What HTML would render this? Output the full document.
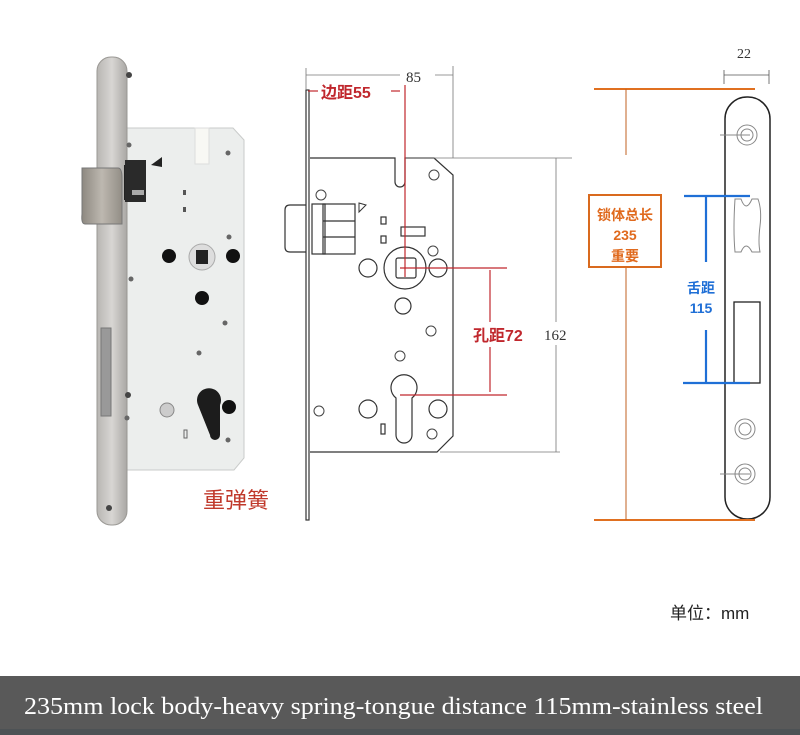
<!DOCTYPE html>
<html><head><meta charset="utf-8"><style>
html,body{margin:0;padding:0;background:#fff;}
svg{display:block}
</style></head><body>
<svg width="800" height="735" viewBox="0 0 800 735" xmlns="http://www.w3.org/2000/svg">
<defs>
<linearGradient id="fp" x1="0" x2="1"><stop offset="0" stop-color="#b8b6b3"/><stop offset="0.5" stop-color="#d8d6d3"/><stop offset="1" stop-color="#a9a7a4"/></linearGradient>
<linearGradient id="lt" x1="0" x2="1"><stop offset="0" stop-color="#8d8880"/><stop offset="0.5" stop-color="#bdb8b0"/><stop offset="1" stop-color="#938e86"/></linearGradient>
</defs>
<rect width="800" height="735" fill="#fff"/>
<!-- PHOTO LOCK -->
<path d="M126,128 H233 L244,140 V458 L234,470 H126 Z" fill="#eceeed" stroke="#c9cbca"/>
<rect x="97" y="57" width="30" height="468" rx="14" fill="url(#fp)" stroke="#9a9894"/>
<rect x="124" y="165" width="22" height="35" fill="#222"/>
<rect x="125" y="160" width="21" height="42" fill="#2a2a2a"/>
<path d="M82,168 H118 Q122,168 122,178 V224 H85 Q81,224 82,214 Z" fill="url(#lt)" stroke="#777"/>
<rect x="132" y="190" width="12" height="5" fill="#aaa"/>
<rect x="195" y="128" width="14" height="36" fill="#f8f8f4" stroke="#ddd"/>
<path d="M151,165 L162,157 L162,167 Z" fill="#222"/>
<rect x="183" y="190" width="3" height="5" fill="#555"/><rect x="183" y="207" width="3" height="5" fill="#555"/>
<circle cx="169" cy="256" r="7" fill="#111"/><circle cx="233" cy="256" r="7" fill="#111"/>
<circle cx="202" cy="257" r="13" fill="#ddd" stroke="#aaa"/><rect x="196" y="250" width="12" height="14" fill="#222"/>
<circle cx="202" cy="298" r="7" fill="#111"/>
<circle cx="229" cy="407" r="7" fill="#111"/><circle cx="167" cy="410" r="7" fill="#ccc" stroke="#888"/>
<path d="M198,405 a12,12 0 1,1 22,0 V435 a5,5 0 0,1 -10,0 Z" fill="#1c1c1c"/>
<rect x="184" y="430" width="3" height="8" fill="none" stroke="#666"/>
<rect x="101" y="328" width="10" height="88" fill="#999" stroke="#777"/>
<circle cx="129" cy="75" r="3" fill="#444"/><circle cx="128" cy="395" r="3" fill="#444"/><circle cx="109" cy="508" r="3" fill="#444"/>
<circle cx="129" cy="145" r="2.5" fill="#666"/><circle cx="228" cy="153" r="2.5" fill="#666"/><circle cx="131" cy="279" r="2.5" fill="#666"/><circle cx="225" cy="323" r="2.5" fill="#666"/><circle cx="199" cy="353" r="2.5" fill="#666"/><circle cx="127" cy="418" r="2.5" fill="#666"/><circle cx="228" cy="440" r="2.5" fill="#666"/><circle cx="229" cy="237" r="2.5" fill="#666"/>
<text x="203" y="508" font-family="Liberation Sans,'Noto Sans CJK SC',sans-serif" font-size="22" fill="#c0392b">重弹簧</text>

<!-- MIDDLE DRAWING -->
<g fill="none" stroke="#333" stroke-width="1.2">
<rect x="306" y="90" width="3" height="430" fill="#fff"/>
<path d="M310,158 H395 V182 A5,5 0 0,0 405,182 V158 H434 L453,175 V436 L437,452 H310"/>
<path d="M306,205 H290 Q285,205 285,210 V247 Q285,252 290,252 H306"/>
<rect x="312" y="204" width="13" height="50"/><rect x="323" y="204" width="32" height="50"/><line x1="323" y1="221" x2="355" y2="221"/><line x1="323" y1="237" x2="355" y2="237"/>
<path d="M359,203 L366,205 L359,212 Z" stroke-width="1"/>
<rect x="381" y="217" width="5" height="7"/><rect x="381" y="236" width="5" height="7"/>
<rect x="401" y="227" width="24" height="9"/>
<circle cx="405" cy="268" r="21"/><rect x="396" y="258" width="20" height="20" rx="2"/>
<circle cx="368" cy="268" r="9"/><circle cx="438" cy="268" r="9"/><circle cx="403" cy="306" r="8"/>
<circle cx="368" cy="409" r="9"/><circle cx="438" cy="409" r="9"/>
<path d="M396,398 a13,13 0 1,1 16,0 V435 a8,8 0 0,1 -16,0 Z"/>
<rect x="381" y="424" width="4" height="10"/>
</g>
<g fill="none" stroke="#444" stroke-width="1">
<circle cx="434" cy="175" r="5"/><circle cx="321" cy="195" r="5"/><circle cx="433" cy="251" r="5"/><circle cx="431" cy="331" r="5"/><circle cx="400" cy="356" r="5"/><circle cx="319" cy="411" r="5"/><circle cx="432" cy="434" r="5"/>
</g>
<g stroke="#777" stroke-width="0.8">
<line x1="306" y1="75" x2="400" y2="75"/><line x1="435" y1="75" x2="453" y2="75"/>
<line x1="306" y1="68" x2="306" y2="90"/><line x1="453" y1="66" x2="453" y2="158"/>
<line x1="405" y1="158" x2="572" y2="158"/><line x1="440" y1="452" x2="560" y2="452"/>
<line x1="556" y1="158" x2="556" y2="322"/><line x1="556" y1="345" x2="556" y2="452"/>
</g>
<text x="406" y="82" font-family="Liberation Serif,serif" font-size="15" fill="#333">85</text>
<text x="544" y="340" font-family="Liberation Serif,serif" font-size="15" fill="#333">162</text>
<g stroke="#c0272d" stroke-width="1.2">
<line x1="308" y1="91" x2="318" y2="91"/><line x1="391" y1="91" x2="400" y2="91"/>
<line x1="405" y1="85" x2="405" y2="277"/>
<line x1="400" y1="268" x2="507" y2="268"/><line x1="400" y1="395" x2="507" y2="395"/>
<line x1="490" y1="270" x2="490" y2="322"/><line x1="490" y1="347" x2="490" y2="392"/>
</g>
<text x="321" y="98" font-family="Liberation Sans,'Noto Sans CJK SC',sans-serif" font-size="16" font-weight="bold" fill="#c0272d">边距55</text>
<text x="473" y="341" font-family="Liberation Sans,'Noto Sans CJK SC',sans-serif" font-size="16" font-weight="bold" fill="#c0272d">孔距72</text>

<!-- RIGHT -->
<g stroke="#555" stroke-width="0.8"><line x1="724" y1="75" x2="769" y2="75"/><line x1="724" y1="70" x2="724" y2="84"/><line x1="769" y1="70" x2="769" y2="84"/></g>
<text x="737" y="58" font-family="Liberation Serif,serif" font-size="14" fill="#333">22</text>
<rect x="725" y="97" width="45" height="422" rx="22" fill="#fff" stroke="#222" stroke-width="1.5"/>
<g fill="none" stroke="#888" stroke-width="1">
<circle cx="747" cy="135" r="10"/><circle cx="747" cy="135" r="6"/>
<circle cx="745" cy="429" r="10"/><circle cx="745" cy="429" r="6"/>
<circle cx="745" cy="474" r="10"/><circle cx="745" cy="474" r="6"/>
<line x1="720" y1="135" x2="750" y2="135"/><line x1="720" y1="474" x2="750" y2="474"/>
<path d="M735,199 H741 Q746,213 752,199 H758 Q762,210 760,226 Q758,242 760,252 H752 Q746,240 741,252 H735 Q733,230 735,199 Z"/>
</g>
<rect x="734" y="302" width="26" height="81" fill="none" stroke="#222" stroke-width="1.3"/>
<g stroke="#e07020" stroke-width="2"><line x1="594" y1="89" x2="755" y2="89"/><line x1="594" y1="520" x2="755" y2="520"/></g>
<g stroke="#c06020" stroke-width="1"><line x1="626" y1="89" x2="626" y2="155"/><line x1="626" y1="262" x2="626" y2="520"/></g>
<rect x="589" y="195" width="72" height="72" fill="#fff" stroke="#d96a1e" stroke-width="2"/>
<g font-family="Liberation Sans,'Noto Sans CJK SC',sans-serif" font-size="14" font-weight="bold" fill="#e06a1e" text-anchor="middle">
<text x="625" y="220">锁体总长</text><text x="625" y="240">235</text><text x="625" y="261">重要</text></g>
<g stroke="#1f6fd6" stroke-width="2.2"><line x1="684" y1="196" x2="750" y2="196"/><line x1="683" y1="383" x2="750" y2="383"/>
<line x1="706" y1="196" x2="706" y2="262"/><line x1="706" y1="330" x2="706" y2="383"/></g>
<g font-family="Liberation Sans,'Noto Sans CJK SC',sans-serif" font-size="14" font-weight="bold" fill="#1f6fd6" text-anchor="middle">
<text x="701" y="293">舌距</text><text x="701" y="313">115</text></g>
<text x="670" y="619" font-family="Liberation Sans,'Noto Sans CJK SC',sans-serif" font-size="17" fill="#222">单位：mm</text>

<!-- BANNER -->
<rect x="0" y="676" width="800" height="59" fill="#595959"/>
<rect x="0" y="729" width="800" height="6" fill="#4d5255"/>
<text x="24" y="714" font-family="Liberation Serif,serif" font-size="24" fill="#fff" textLength="739" lengthAdjust="spacingAndGlyphs">235mm lock body-heavy spring-tongue distance 115mm-stainless steel</text>
</svg>
</body></html>
